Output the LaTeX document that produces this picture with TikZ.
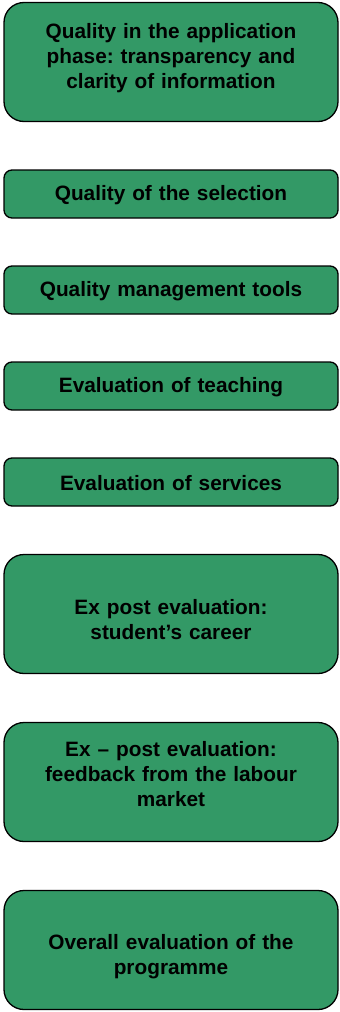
\documentclass[tikz,border=0pt]{standalone}
\usepackage{fontspec}
\setmainfont{Liberation Sans}
\definecolor{boxgreen}{HTML}{339966}
\frenchspacing
\begin{document}
\begin{tikzpicture}[x=1pt,y=-1pt,
  qbox/.style={draw=black, line width=1.3pt, fill=boxgreen, rounded corners=#1,
    inner sep=0pt, minimum width=334pt},
  qbox/.default=8pt,
  qtext/.style={align=center, font=\fontsize{20.8}{25}\selectfont\bfseries, text=black,
    inner sep=0pt, text width=330pt}]
\useasboundingbox (0,0) rectangle (340,1012);
\node[qbox=20pt, minimum height=119pt] (b1) at (171,62) {};
\node[qtext] (t1) at (171,58) {Quality in the application\\phase: transparency and\\clarity of information};
\node[qbox, minimum height=48pt] (b2) at (171,194) {};
\node[qtext] (t2) at (171,195) {Quality of the selection};
\node[qbox, minimum height=48pt] (b3) at (171,290) {};
\node[qtext] (t3) at (171,291) {Quality management tools};
\node[qbox, minimum height=48pt] (b4) at (171,386) {};
\node[qtext] (t4) at (171,387) {Evaluation of teaching};
\node[qbox, minimum height=48pt] (b5) at (171,482) {};
\node[qtext] (t5) at (171,483) {Evaluation of services};
\node[qbox=20pt, minimum height=119pt] (b6) at (171,614) {};
\node[qtext] (t6) at (171,620) {Ex post evaluation:\\student’s career};
\node[qbox=20pt, minimum height=119pt] (b7) at (171,782) {};
\node[qtext] (t7) at (171,774) {Ex – post evaluation:\\feedback from the labour\\market};
\node[qbox=20pt, minimum height=119pt] (b8) at (171,950) {};
\node[qtext] (t8) at (171,957) {Overall evaluation of the\\programme};
\end{tikzpicture}
\end{document}
